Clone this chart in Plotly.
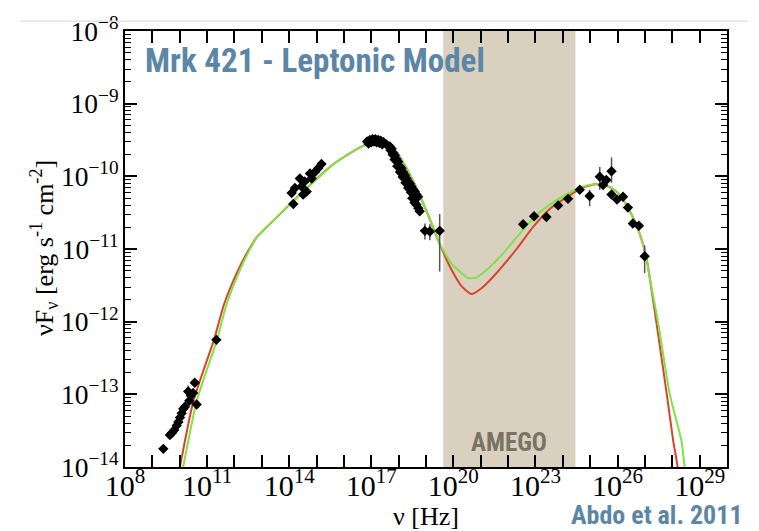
import numpy as np
import plotly.graph_objects as go

# ---- observed data (log10 nu [Hz], log10 nuFnu [erg s^-1 cm^-2]) ----
radio_lognu = [9.40, 9.64, 9.72, 9.80, 9.89, 9.95, 10.01, 10.07, 10.13, 10.19,
               10.31, 10.35, 10.41, 10.49, 10.55, 10.62, 11.34]
radio_logf = [-13.75, -13.56, -13.53, -13.49, -13.43, -13.38, -13.32, -13.26, -13.20, -13.17,
              -12.96, -13.09, -13.02, -12.98, -12.84, -13.14, -12.25]

opt_lognu = [14.09, 14.15, 14.21, 14.39, 14.45, 14.51, 14.57, 14.64, 14.76, 14.82,
             14.94, 15.06, 15.18]
opt_logf = [-10.23, -10.38, -10.16, -10.03, -10.14, -10.25, -10.07, -10.21, -9.96, -10.03,
            -9.94, -9.89, -9.83]

xray_lognu = [16.85, 16.95, 17.05, 17.15, 17.25, 17.35, 17.45, 17.55, 17.68, 17.74,
              17.80, 17.86, 17.92, 17.98, 18.04, 18.10, 18.16, 18.23, 18.29, 18.35,
              18.41, 18.47, 18.53, 18.59, 18.65, 18.71,
              17.70, 17.78, 17.85, 17.95, 18.05, 18.15, 18.25, 18.35, 18.45,
              18.50, 18.58, 18.65, 18.72, 18.77,
              16.90, 17.00, 17.10, 17.20, 17.30, 17.40,
              18.96, 19.14, 19.50]
xray_logf = [-9.52, -9.50, -9.49, -9.49, -9.50, -9.51, -9.53, -9.56, -9.59, -9.62,
             -9.68, -9.71, -9.76, -9.80, -9.86, -9.89, -9.94, -9.98, -10.03, -10.07,
             -10.10, -10.14, -10.18, -10.21, -10.25, -10.28,
             -9.64, -9.70, -9.77, -9.86, -9.94, -10.01, -10.09, -10.16, -10.22,
             -10.30, -10.36, -10.39, -10.44, -10.48,
             -9.55, -9.53, -9.52, -9.53, -9.54, -9.56,
             -10.75, -10.76, -10.75]
xray_err_up = [0] * 46 + [0.10, 0.10, 0.23]
xray_err_dn = [0] * 46 + [0.12, 0.12, 0.56]

gamma_lognu = [22.55, 22.95, 23.40, 23.83, 24.19, 24.62, 24.98, 25.35, 25.47, 25.59,
               25.78, 25.78, 25.98, 26.20, 26.38, 26.56, 26.78, 26.99]
gamma_logf = [-10.66, -10.55, -10.56, -10.40, -10.31, -10.185, -10.27, -10.005, -10.12, -10.05,
              -9.93, -10.25, -10.32, -10.28, -10.43, -10.65, -10.68, -11.10]
gamma_err_up = [0, 0, 0, 0, 0, 0, 0.085, 0.135, 0, 0, 0.19, 0, 0, 0, 0, 0, 0, 0.15]
gamma_err_dn = [0, 0, 0, 0, 0, 0, 0.14, 0.18, 0, 0, 0.16, 0, 0, 0, 0, 0, 0, 0.23]

radio_err_up = [0] * 10 + [0.08] + [0] * 6
radio_err_dn = [0] * 17
opt_err_up = [0] * 13
opt_err_dn = [0] * 13

# ---- model curves (log10 values) ----
green_lognu = [9.96, 10.13, 10.62, 11.37, 11.71, 12.20, 12.50, 12.81, 13.42, 14.15, 14.76,
               15.49, 16.10, 16.70, 17.07, 17.43, 17.80, 18.29, 18.65, 19.02, 19.44,
               19.69, 19.93, 20.24, 20.54, 20.85, 21.21, 21.82, 22.31, 22.91, 23.52,
               24.13, 24.74, 25.23, 25.59, 25.96, 26.32, 26.57, 26.81, 27.05, 27.17,
               27.48, 27.91, 28.33, 28.45, 28.62]
green_logf = [-14.30, -13.99, -13.09, -12.24, -11.76, -11.29, -11.05, -10.84, -10.61, -10.34, -10.12,
              -9.87, -9.71, -9.58, -9.53, -9.53, -9.60, -9.89, -10.16, -10.48, -10.88,
              -11.06, -11.20, -11.31, -11.40, -11.39, -11.29, -11.06, -10.84, -10.58, -10.39,
              -10.25, -10.14, -10.11, -10.13, -10.21, -10.39, -10.57, -10.79, -11.11, -11.38,
              -12.01, -13.00, -13.63, -13.99, -14.50]

red_lognu = [9.84, 10.01, 10.50, 11.26, 11.62, 12.12, 12.45, 12.81, 13.42, 14.15, 14.76,
             15.49, 16.10, 16.70, 17.07, 17.43, 17.80, 18.29, 18.65, 19.02, 19.50,
             19.87, 20.30, 20.66, 21.03, 21.58, 22.31, 22.91, 23.52, 24.13, 24.74,
             25.23, 25.59, 25.96, 26.32, 26.57, 26.81, 27.05, 27.17, 27.42, 27.80,
             28.03, 28.19, 28.24]
red_logf = [-14.30, -13.99, -13.09, -12.24, -11.76, -11.30, -11.06, -10.84, -10.61, -10.34, -10.12,
            -9.87, -9.71, -9.58, -9.53, -9.53, -9.60, -9.89, -10.16, -10.48, -10.93,
            -11.24, -11.51, -11.62, -11.54, -11.33, -11.00, -10.70, -10.45, -10.29, -10.15,
            -10.11, -10.13, -10.21, -10.39, -10.57, -10.79, -11.11, -11.38, -12.01, -13.00,
            -13.63, -13.99, -14.40]

amego_lognu = [19.63, 24.46]

# ---- build ----
lognu = np.array(radio_lognu + opt_lognu + xray_lognu + gamma_lognu)
logf = np.array(radio_logf + opt_logf + xray_logf + gamma_logf)
eup = np.array(radio_err_up + opt_err_up + xray_err_up + gamma_err_up)
edn = np.array(radio_err_dn + opt_err_dn + xray_err_dn + gamma_err_dn)
nu = 10 ** lognu
f = 10 ** logf
plus = 10 ** (logf + eup) - f
minus = f - 10 ** (logf - edn)

fig = go.Figure()
fig.add_trace(go.Scatter(x=10 ** np.array(red_lognu), y=10 ** np.array(red_logf), mode="lines",
                         line=dict(color="#d9452b", width=2, shape="spline", smoothing=0.6),
                         showlegend=False))
fig.add_trace(go.Scatter(x=10 ** np.array(green_lognu), y=10 ** np.array(green_logf), mode="lines",
                         line=dict(color="#7fe245", width=2, shape="spline", smoothing=0.6),
                         showlegend=False))
fig.add_trace(go.Scatter(x=nu, y=f, mode="markers",
                         marker=dict(symbol="diamond", size=8, color="black"),
                         error_y=dict(type="data", symmetric=False, array=plus, arrayminus=minus,
                                      color="#555555", thickness=1.5, width=0),
                         showlegend=False))

L, R, T, B = 125, 32, 23, 64
W, H = 759, 531
pw, ph = W - L - R, H - T - B

fig.add_shape(type="rect", xref="x", yref="paper", x0=10 ** amego_lognu[0], x1=10 ** amego_lognu[1],
              y0=0, y1=1, fillcolor="#d9d0bf", line=dict(width=0), layer="below")
# slide separator line
fig.add_shape(type="line", xref="paper", yref="paper",
              x0=(20 - L) / pw, x1=(748 - L) / pw, y0=(H - B - 13) / ph, y1=(H - B - 13) / ph,
              line=dict(color="#e2e2e2", width=1.5))

serif = "Liberation Serif, Times New Roman, serif"
cond = "Liberation Sans Narrow, Arial Narrow, Roboto Condensed, Roboto, sans-serif"

axis_common = dict(type="log", showline=True, linecolor="black", linewidth=2, mirror="allticks",
                   ticks="inside", tickcolor="black", tickwidth=1.5, showgrid=False, zeroline=False,
                   exponentformat="power")
fig.update_xaxes(**axis_common, range=[8, 30], dtick=3, tick0=8, ticklen=12, ticklabelstandoff=-8,
                 tickfont=dict(family=serif, size=24, color="black"),
                 minor=dict(dtick=1, tick0=8, ticks="inside", ticklen=12, tickwidth=1.5,
                            tickcolor="black", showgrid=False))
fig.update_yaxes(**axis_common, range=[-14, -8], dtick=1, ticklen=12,
                 tickfont=dict(family=serif, size=22, color="black"),
                 minor=dict(dtick="D1", ticks="inside", ticklen=6, tickwidth=1.2,
                            tickcolor="black", showgrid=False))

fig.add_annotation(text="<b>Mrk 421 - Leptonic Model</b>", xref="paper", yref="paper",
                   x=(143 - L) / pw, y=(H - B - 53) / ph, xanchor="left", yanchor="middle",
                   showarrow=False, font=dict(family=cond, size=33, color="#5b86a6"))
fig.add_annotation(text="<b>AMEGO</b>", xref="paper", yref="paper",
                   x=(509 - L) / pw, y=(H - B - 442) / ph, xanchor="center", yanchor="middle",
                   showarrow=False, font=dict(family=cond, size=25, color="#7a7264"))
fig.add_annotation(text="<b>Abdo et al. 2011</b>", xref="paper", yref="paper",
                   x=(657 - L) / pw, y=(H - B - 516) / ph, xanchor="center", yanchor="middle",
                   showarrow=False, font=dict(family=cond, size=26, color="#5b86a6"))
fig.add_annotation(text="ν [Hz]", xref="paper", yref="paper",
                   x=(426 - L) / pw, y=(H - B - 517) / ph, xanchor="center", yanchor="middle",
                   showarrow=False, font=dict(family=serif, size=26, color="black"))
fig.add_annotation(text="νF<sub>ν</sub> [erg s<sup>-1</sup> cm<sup>-2</sup>]", xref="paper", yref="paper",
                   x=(44 - L) / pw, y=(H - B - 244) / ph, xanchor="center", yanchor="middle",
                   textangle=-90, showarrow=False, font=dict(family=serif, size=26, color="black"))

fig.update_layout(width=W, height=H, margin=dict(l=L, r=R, t=T, b=B),
                  paper_bgcolor="white", plot_bgcolor="white", showlegend=False)
fig.write_html("out.html")
